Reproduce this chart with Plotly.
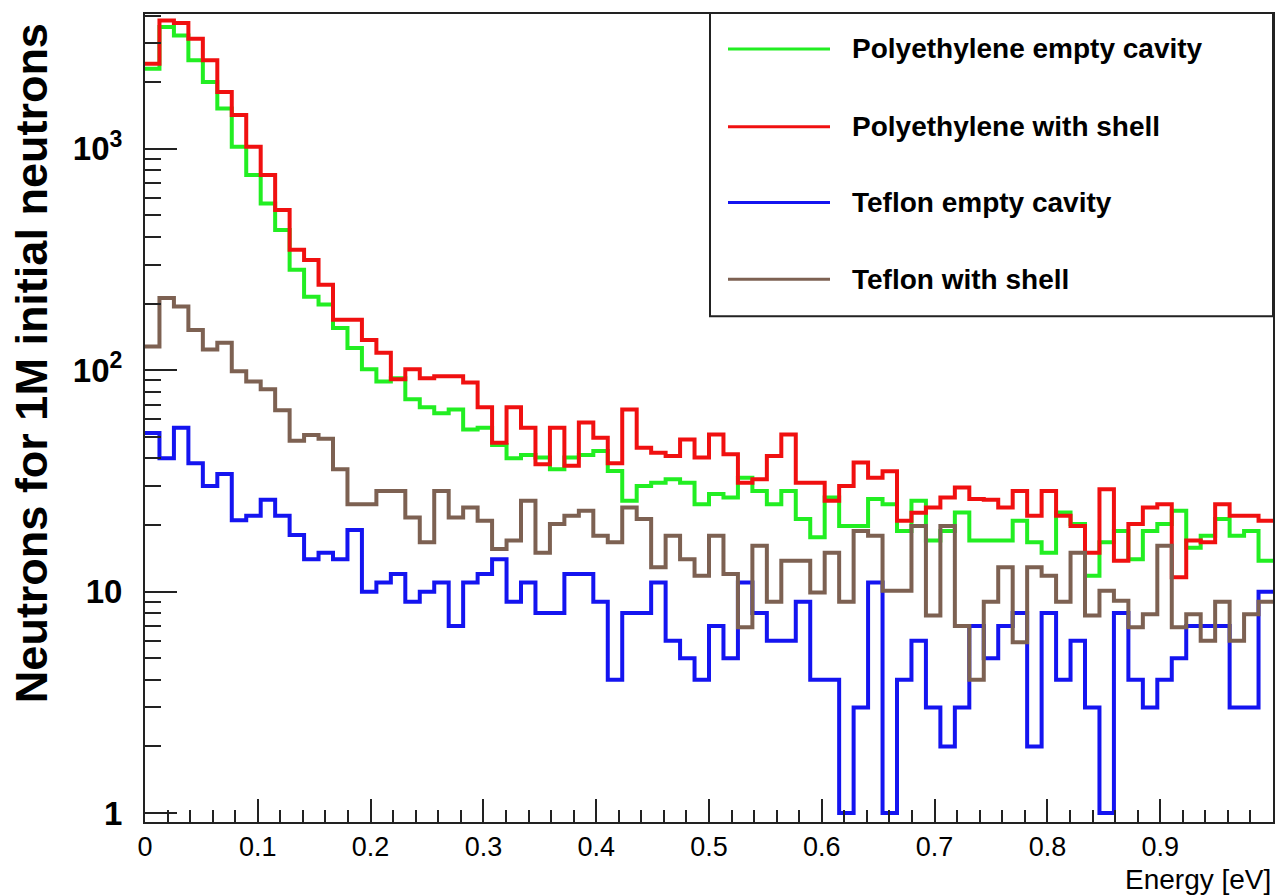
import numpy as np
import plotly.graph_objects as go

# ---- data (78 bins, 0 - 1 eV) ----
n_bins = 78
x_min, x_max = 0.0, 1.0

poly_empty = [2300, 3546, 3250, 2510, 2004, 1520, 1021, 761, 567, 430,
              284, 215, 198, 155, 126, 101, 89, 92, 74, 68,
              64, 66.5, 54, 55, 46, 40, 41.4, 40.3, 35.7, 40.3,
              41.4, 43.2, 35.1, 25.7, 30, 31, 32.2, 31, 24.8, 27.6,
              26.6, 32.7, 28.5, 24.8, 28.5, 21.3, 17.6, 26.6, 19.8, 19.8,
              26.2, 24.8, 18.8, 25.7, 17, 18.8, 22.8, 17, 17, 17,
              20.9, 16.7, 15, 22.8, 20.2, 11.8, 16.7, 18.8, 14, 18.8,
              20.2, 23.2, 15.8, 17.9, 21.3, 17.9, 18.8, 13.8]

poly_shell = [2423, 3800, 3706, 3140, 2510, 1807, 1420, 1021, 761, 530,
              350, 315, 243, 169, 169, 137, 120, 91, 101, 92,
              94, 94, 88, 68, 47, 68, 55, 37.6, 55, 37,
              58, 49.5, 38, 66.5, 44.7, 42.4, 41, 48.7, 40.3, 51.3,
              41.7, 31, 32.2, 41, 51.3, 31, 31, 25.7, 30, 38.3,
              32.7, 35, 20.9, 22.7, 24, 26.6, 29.5, 26.2, 26, 24,
              28.5, 22, 28.5, 22, 19.8, 15, 29, 13.8, 20.2, 24,
              24.8, 11.6, 17, 16.7, 24.8, 22, 22, 20.9]

teflon_empty = [52, 40, 55, 38, 30, 34, 21, 22, 26, 22,
                18, 14, 15, 14, 19, 10, 11, 12, 9, 10,
                11, 7, 11, 12, 14, 9, 11, 8, 8, 12,
                12, 9, 4, 8, 8, 11, 6, 5, 4, 7,
                5, 11, 8, 6, 6, 9, 4, 4, 1, 3,
                11, 1, 4, 6, 3, 2, 3, 7, 5, 7,
                8, 2, 8, 4, 6, 3, 1, 8, 4, 3,
                4, 5, 7, 7, 7, 3, 3, 10]

teflon_shell = [128, 212, 194, 152, 124, 133, 99, 89, 82, 66,
                48, 51, 49, 35.7, 24.8, 24.8, 28.5, 28.5, 21.6, 16.7,
                28.5, 21.6, 24, 20.9, 15.6, 17, 25.7, 15, 20.2, 22,
                23.2, 17.9, 16.7, 24, 21.3, 12.9, 17.9, 14, 11.8, 17.9,
                12, 6.9, 16.1, 9, 13.8, 13.8, 9.9, 15, 9, 18.8,
                17.9, 10.1, 10.1, 19.8, 7.8, 19.8, 7, 4, 9, 12.9,
                5.9, 12.9, 11.8, 9, 15, 7.8, 10.1, 9.1, 6.9, 7.9,
                16.1, 6.9, 7.9, 6, 9, 6, 7.9, 9]

series_names = ["Polyethylene empty cavity", "Polyethylene with shell",
                "Teflon empty cavity", "Teflon with shell"]
series_values = [poly_empty, poly_shell, teflon_empty, teflon_shell]
series_colors = ["#22ee22", "#f01010", "#1414f0", "#7d6152"]

x_tick_vals = [0, 0.1, 0.2, 0.3, 0.4, 0.5, 0.6, 0.7, 0.8, 0.9]
x_tick_text = ["0", "0.1", "0.2", "0.3", "0.4", "0.5", "0.6", "0.7", "0.8", "0.9"]
y_tick_vals = [1, 10, 100, 1000]
y_tick_text = ["1", "10", "10<sup>2</sup>", "10<sup>3</sup>"]
y_minor_vals = [m * 10 ** e for e in range(0, 4) for m in range(2, 10) if m * 10 ** e <= 4000]

y_title = "Neutrons for 1M initial neutrons"
x_title = "Energy [eV]"

# ---- layout geometry (pixels) ----
W, H = 1288, 895
L, R, T, B = 145, 15, 12, 73
pw, ph = W - L - R, H - T - B


def px(x):
    return (x - L) / pw


def py(y):
    return (H - B - y) / ph


edges = np.linspace(x_min, x_max, n_bins + 1)

fig = go.Figure()
for name, vals, col in zip(series_names, series_values, series_colors):
    fig.add_trace(go.Scatter(
        x=edges, y=list(vals) + [vals[-1]], mode="lines", name=name,
        line=dict(color=col, width=4, shape="hv"), showlegend=False,
        hoverinfo="skip"))

FONT = "Liberation Sans, Arial, Helvetica, sans-serif"

fig.update_xaxes(
    range=[x_min, x_max], showgrid=False, zeroline=False,
    showline=True, linecolor="#222", linewidth=2, mirror=True,
    tickmode="array", tickvals=x_tick_vals, ticktext=x_tick_text,
    ticks="inside", ticklen=23, tickwidth=2, tickcolor="#222",
    minor=dict(ticks="inside", ticklen=12, tickwidth=2, tickcolor="#222",
               tickmode="linear", tick0=0, dtick=0.02, showgrid=False),
    tickfont=dict(family=FONT, size=27, color="black"),
)
fig.update_yaxes(
    type="log", range=[-0.0405, 3.609], showgrid=False, zeroline=False,
    showline=True, linecolor="#222", linewidth=2, mirror=True,
    tickmode="array", tickvals=y_tick_vals, ticktext=y_tick_text,
    ticks="inside", ticklen=32, tickwidth=2, tickcolor="#222",
    minor=dict(ticks="inside", ticklen=16, tickwidth=2, tickcolor="#222",
               tickmode="array", tickvals=y_minor_vals, showgrid=False),
    tickfont=dict(family=FONT, size=33, color="black", weight="bold"),
    ticklabelstandoff=14,
)

shapes = [dict(type="rect", xref="paper", yref="paper",
               x0=px(710), x1=px(1273), y0=py(315), y1=py(11),
               line=dict(color="#222", width=2), fillcolor="white", layer="above")]
annotations = []
legend_y = [47, 125, 201, 278]
for name, col, yy in zip(series_names, series_colors, legend_y):
    shapes.append(dict(type="line", xref="paper", yref="paper",
                       x0=px(728), x1=px(830), y0=py(yy), y1=py(yy),
                       line=dict(color=col, width=3), layer="above"))
    annotations.append(dict(xref="paper", yref="paper", x=px(850), y=py(yy),
                            text=name, showarrow=False, xanchor="left", yanchor="middle",
                            font=dict(family=FONT, size=28, color="black", weight="bold")))

annotations.append(dict(xref="paper", yref="paper", x=1.0, y=py(880), text=x_title,
                        showarrow=False, xanchor="right", yanchor="middle",
                        font=dict(family=FONT, size=28, color="black")))
annotations.append(dict(xref="paper", yref="paper", x=px(31), y=py(362), text=y_title,
                        showarrow=False, xanchor="center", yanchor="middle", textangle=-90,
                        font=dict(family=FONT, size=45, color="black", weight="bold")))

fig.update_layout(
    width=W, height=H, margin=dict(l=L, r=R, t=T, b=B, pad=0),
    paper_bgcolor="white", plot_bgcolor="white",
    shapes=shapes, annotations=annotations, showlegend=False,
)

fig.write_html("out.html")
